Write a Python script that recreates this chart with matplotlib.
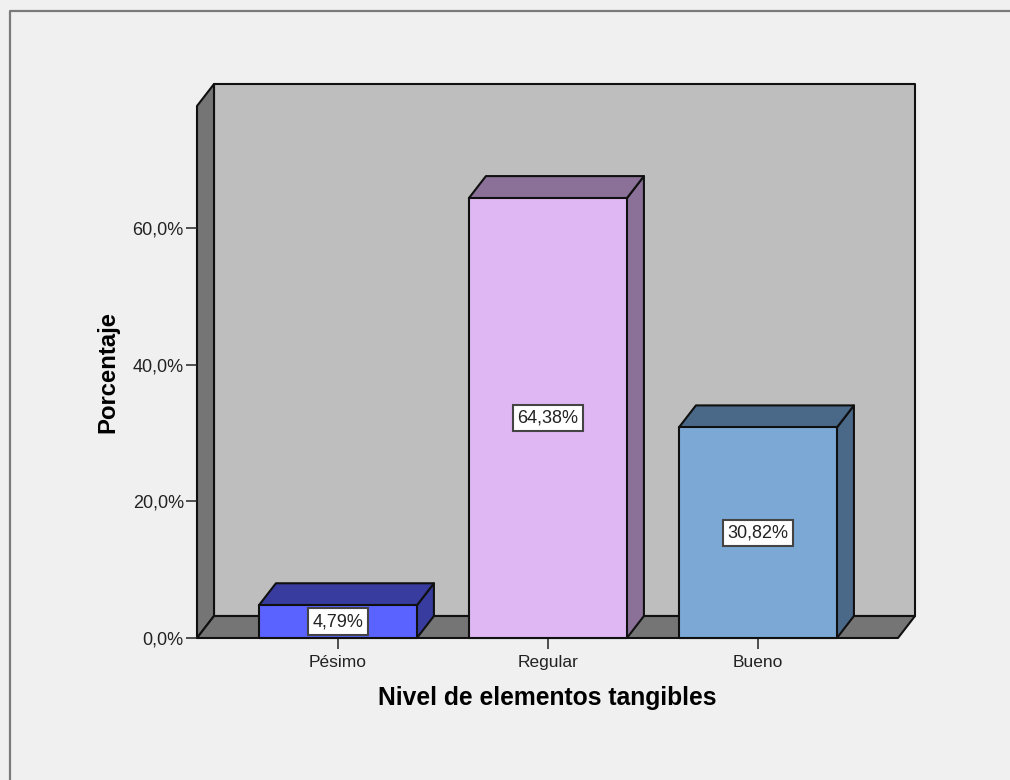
import matplotlib
matplotlib.use("Agg")
import matplotlib.pyplot as plt
from matplotlib.patches import Polygon
from matplotlib.lines import Line2D

categories = ["Pésimo", "Regular", "Bueno"]
values = [4.79, 64.38, 30.82]
value_labels = ["4,79%", "64,38%", "30,82%"]
y_ticks = [0, 20, 40, 60]
y_tick_labels = ["0,0%", "20,0%", "40,0%", "60,0%"]
front_colors = ["#5A62FF", "#DFB8F3", "#7CA8D6"]
top_colors = ["#383C9E", "#8B7198", "#4A6888"]

W, H = 1010, 780
plt.rcParams["font.family"] = ["Liberation Sans", "DejaVu Sans"]
BG = "#F0F0F0"
fig = plt.figure(figsize=(W / 100, H / 100), dpi=100, facecolor=BG)
L, R, T, B = 197, 898, 106, 638
ax = fig.add_axes([L / W, 1 - B / H, (R - L) / W, (B - T) / H])
ax.patch.set_visible(False)
for s in ax.spines.values():
    s.set_visible(False)
ax.set_xlim(-0.671, 2.667)
ax.set_ylim(0, (B - T) / 6.833)

dx = 17 / 210
dy = 22 / 6.833
bw = 158 / 210
x0, x1 = ax.get_xlim()
y1 = ax.get_ylim()[1]
edge = "#101010"
lw = 1.5


def poly(pts, fc, z):
    ax.add_patch(Polygon(pts, closed=True, facecolor=fc, edgecolor=edge,
                         linewidth=lw, clip_on=False, zorder=z, joinstyle="round"))


# walls
poly([(x0 + dx, dy), (x1 + dx, dy), (x1 + dx, y1 + dy), (x0 + dx, y1 + dy)], "#BEBEBE", 1)
poly([(x0, 0), (x0 + dx, dy), (x0 + dx, y1 + dy), (x0, y1)], "#757575", 1.1)
poly([(x0, 0), (x1, 0), (x1 + dx, dy), (x0 + dx, dy)], "#757575", 1.2)

# bars
for i, (v, fc, tc, lab) in enumerate(zip(values, front_colors, top_colors, value_labels)):
    l, r = i - bw / 2, i + bw / 2
    poly([(r, 0), (r + dx, dy), (r + dx, v + dy), (r, v)], tc, 2)
    poly([(l, v), (r, v), (r + dx, v + dy), (l + dx, v + dy)], tc, 2)
    poly([(l, 0), (r, 0), (r, v), (l, v)], fc, 2.1)
    ax.text(i, v / 2, lab, ha="center", va="center", fontsize=13, color="#222222", zorder=3,
            bbox=dict(boxstyle="square,pad=0.26", facecolor="white", edgecolor="#444444", linewidth=1.5))

ax.set_xticks(range(len(categories)), categories)
ax.set_yticks(y_ticks, y_tick_labels)
ax.tick_params(axis="both", length=8, width=1.1, color="#222222", labelsize=12.5,
               labelcolor="#222222", pad=4)
ax.tick_params(axis="y", labelsize=13, pad=1.5)
for t in ax.get_xticklines() + ax.get_yticklines():
    t.set_zorder(0.5)
ax.set_xlabel("Nivel de elementos tangibles", fontsize=17.7, fontweight="bold", labelpad=11.5)
ax.set_ylabel("Porcentaje", fontsize=17.2, fontweight="bold", labelpad=9.5)

# outer frame of the viewer
fig.add_artist(Line2D([10 / W, 10 / W, 1], [0, 1 - 11 / H, 1 - 11 / H],
                      transform=fig.transFigure, color="#7A7A7A", linewidth=1.6))
fig.savefig("out.png", dpi=100, facecolor=BG)
